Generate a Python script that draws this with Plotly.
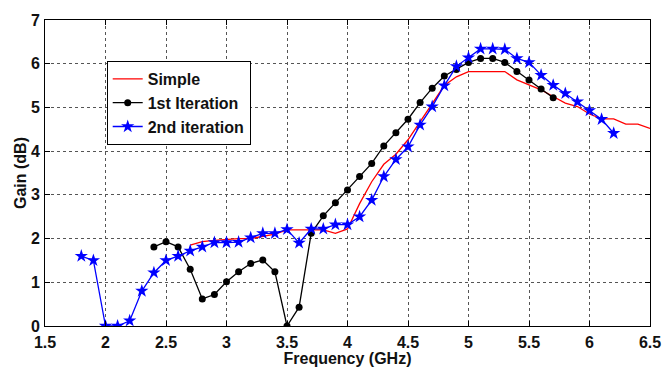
import plotly.graph_objects as go

# Simple (red, no markers)
simple_x = [2.7, 2.8, 2.9, 3.0, 3.1, 3.2, 3.3, 3.4, 3.5, 3.6, 3.7, 3.8, 3.9, 4.0,
            4.1, 4.2, 4.3, 4.4, 4.5, 4.6, 4.7, 4.8, 4.9, 5.0, 5.1, 5.2, 5.3, 5.4,
            5.5, 5.6, 5.7, 5.8, 5.9, 6.0, 6.1, 6.2, 6.3, 6.4, 6.5]
simple_y = [1.85, 1.93, 1.96, 1.98, 2.0, 2.0, 2.05, 2.1, 2.2, 2.2, 2.2, 2.2, 2.12, 2.22,
            2.8, 3.3, 3.7, 3.93, 4.26, 4.67, 5.08, 5.5, 5.7, 5.82, 5.82, 5.82, 5.82, 5.63,
            5.52, 5.4, 5.25, 5.1, 5.02, 4.85, 4.74, 4.74, 4.62, 4.62, 4.52]

# 1st Iteration (black, circles)
iter1_x = [2.4, 2.5, 2.6, 2.7, 2.8, 2.9, 3.0, 3.1, 3.2, 3.3, 3.4, 3.5, 3.6, 3.7,
           3.8, 3.9, 4.0, 4.1, 4.2, 4.3, 4.4, 4.5, 4.6, 4.7, 4.8, 4.9, 5.0, 5.1,
           5.2, 5.3, 5.4, 5.5, 5.6, 5.7]
iter1_y = [1.81, 1.93, 1.81, 1.3, 0.62, 0.72, 1.01, 1.24, 1.43, 1.51, 1.24, 0.0, 0.43, 2.12,
           2.52, 2.82, 3.11, 3.42, 3.72, 4.12, 4.42, 4.73, 5.11, 5.44, 5.72, 5.87, 6.03, 6.12,
           6.12, 6.03, 5.82, 5.63, 5.42, 5.22]

# 2nd iteration (blue, stars)
iter2_x = [1.8, 1.9, 2.0, 2.1, 2.2, 2.3, 2.4, 2.5, 2.6, 2.7, 2.8, 2.9, 3.0, 3.1,
           3.2, 3.3, 3.4, 3.5, 3.6, 3.7, 3.8, 3.9, 4.0, 4.1, 4.2, 4.3, 4.4, 4.5,
           4.6, 4.7, 4.8, 4.9, 5.0, 5.1, 5.2, 5.3, 5.4, 5.5, 5.6, 5.7, 5.8, 5.9,
           6.0, 6.1, 6.2]
iter2_y = [1.6, 1.5, 0.0, 0.0, 0.12, 0.8, 1.22, 1.5, 1.6, 1.72, 1.81, 1.91, 1.91, 1.92,
           2.02, 2.12, 2.12, 2.21, 1.9, 2.22, 2.22, 2.32, 2.32, 2.5, 2.88, 3.42, 3.81, 4.1,
           4.6, 5.02, 5.5, 5.94, 6.14, 6.34, 6.34, 6.33, 6.12, 6.03, 5.74, 5.51, 5.32, 5.13,
           4.93, 4.73, 4.41]

x_ticks = [1.5, 2, 2.5, 3, 3.5, 4, 4.5, 5, 5.5, 6, 6.5]
x_tick_text = ["1.5", "2", "2.5", "3", "3.5", "4", "4.5", "5", "5.5", "6", "6.5"]
y_ticks = [0, 1, 2, 3, 4, 5, 6, 7]

FONT = "Liberation Sans, Arial"
fig = go.Figure()
fig.add_trace(go.Scatter(x=simple_x, y=simple_y, mode="lines", name="Simple",
                         line=dict(color="#ff0000", width=1.3)))
fig.add_trace(go.Scatter(x=iter1_x, y=iter1_y, mode="lines+markers", name="1st Iteration",
                         line=dict(color="#000000", width=1.3),
                         marker=dict(symbol="circle", size=7, color="#000000")))
fig.add_trace(go.Scatter(x=iter2_x, y=iter2_y, mode="lines+markers", name="2nd iteration",
                         line=dict(color="#0000ff", width=1.3),
                         marker=dict(symbol="star", size=10, color="#0000ff")))

axis_common = dict(
    showline=True, linecolor="#000000", linewidth=1, mirror="ticks",
    ticks="inside", ticklen=5, tickcolor="#000000",
    showgrid=True, gridcolor="#555555", griddash="dot", gridwidth=1,
    zeroline=False, automargin=False,
    tickfont=dict(family=FONT, size=16, color="#111111", weight="bold"),
)

fig.update_layout(
    width=665, height=367,
    margin=dict(l=45, r=15, t=20, b=41),
    paper_bgcolor="white", plot_bgcolor="white",
    xaxis=dict(range=[1.5, 6.5], tickvals=x_ticks, ticktext=x_tick_text,
               ticklabelstandoff=2,
               title=dict(text="Frequency (GHz)", standoff=0,
                          font=dict(family=FONT, size=16, color="#111111", weight="bold")),
               **axis_common),
    yaxis=dict(range=[0, 7], tickvals=y_ticks, ticklabelstandoff=1,
               title=dict(text="Gain (dB)", standoff=0,
                          font=dict(family=FONT, size=16, color="#111111", weight="bold")),
               **axis_common),
    legend=dict(x=0.102, y=0.866, xanchor="left", yanchor="top",
                bgcolor="white", bordercolor="#000000", borderwidth=1,
                font=dict(family=FONT, size=16, color="#111111", weight="bold"),
                tracegroupgap=0, itemwidth=30),
    showlegend=True,
)

fig.write_html("out.html")
